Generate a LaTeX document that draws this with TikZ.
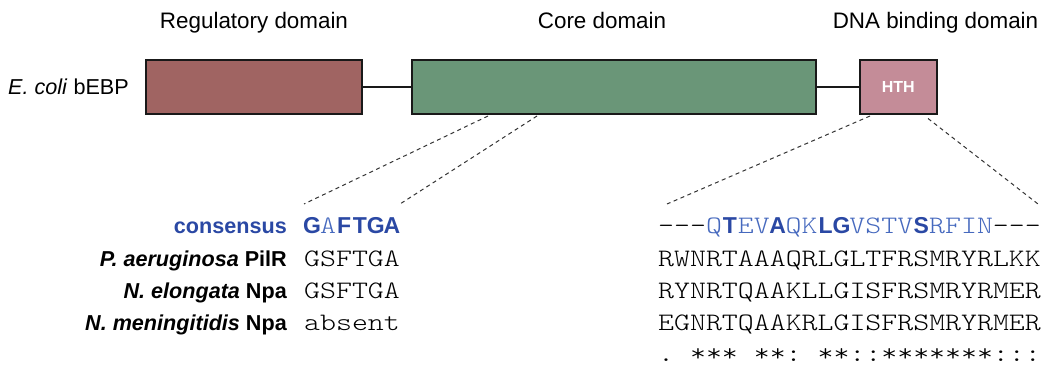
\documentclass[tikz,border=0pt]{standalone}
\usepackage{fontspec}
\setmainfont{Liberation Sans}
\newfontfamily\mono{Latin Modern Mono Light}[FakeStretch=1.21]
\usetikzlibrary{calc}
\definecolor{regc}{RGB}{160,100,98}
\definecolor{corec}{RGB}{106,150,120}
\definecolor{hthc}{RGB}{196,140,152}
\definecolor{cblue}{RGB}{42,72,164}
\definecolor{lblue}{RGB}{70,105,190}
\newcommand{\Bc}[1]{\makebox[15.93pt][c]{\fontsize{23}{26}\normalfont\bfseries\color{cblue}#1}}
\newcommand{\Lc}[1]{{\color{lblue}#1}}
\newcommand{\gap}{\hspace*{15.93pt}}
\begin{document}
\begin{tikzpicture}[x=1pt,y=-1pt,
  dom/.style={draw=black!90, line width=1.5pt, inner sep=0pt, anchor=north west, minimum height=54pt},
  head/.style={font=\fontsize{22.4}{26}\selectfont, anchor=base, inner sep=0pt},
  lab/.style={font=\fontsize{21.6}{26}\selectfont\bfseries, anchor=base east, inner sep=0pt},
  seq/.style={font=\fontsize{25.1}{30}\mono, anchor=base west, inner sep=0pt},
  link/.style={line width=1.5pt, draw=black!90},
  zoomline/.style={dash pattern=on 4pt off 3.5pt, line width=1pt, draw=black!80}]
\useasboundingbox (0,0) rectangle (1043,367);
% headings
\node[head] (hreg) at (254,28) {Regulatory domain};
\node[head] (hcore) at (602,28) {Core domain};
\node[head] (hdna) at (935.5,28) {DNA binding domain};
\node[font=\fontsize{21.6}{26}\selectfont, anchor=base west, inner sep=0pt] (ecoli) at (8,94) {\textit{E. coli} bEBP};
% domains
\node[dom, fill=regc, minimum width=216pt] (reg) at (145,59) {};
\node[dom, fill=corec, minimum width=404pt] (core) at (411,59) {};
\node[dom, fill=hthc, minimum width=77pt, text=white, font=\fontsize{16}{18}\selectfont\bfseries] (hth) at (859,59) {HTH};
\draw[link] (reg.east) -- (core.west);
\draw[link] (core.east) -- (hth.west);
% zoom lines
\coordinate (e1) at (304,204);
\coordinate (e2) at (400,204);
\coordinate (e3) at (667,204);
\coordinate (e4) at (1038,204);
\draw[zoomline] ([xshift=77pt,yshift=-1.5pt]core.south west) -- (e1);
\draw[zoomline] ([xshift=126pt,yshift=-1.5pt]core.south west) -- (e2);
\draw[zoomline] ([xshift=11pt,yshift=-1.5pt]hth.south west) -- (e3);
\draw[zoomline] ([xshift=69pt,yshift=-4pt]hth.south west) -- (e4);
% labels
\node[lab, text=cblue] (l0) at (287,233) {consensus};
\node[lab] (l1) at (287,266) {\textit{P. aeruginosa} PilR};
\node[lab] (l2) at (287,298.5) {\textit{N. elongata} Npa};
\node[lab] (l3) at (287,330.5) {\textit{N. meningitidis} Npa};
% left sequences
\node[seq] (a0) at (304,233) {\Bc{G}\Lc{A}\Bc{F}\Bc{T}\Bc{G}\Bc{A}};
\node[seq] (a1) at (304,266) {GSFTGA};
\node[seq] (a2) at (304,298.5) {GSFTGA};
\node[seq] (a3) at (304,330.5) {absent};
% right sequences
\node[seq] (b0) at (658,233) {---\Lc{Q}\Bc{T}\Lc{EV}\Bc{A}\Lc{QK}\Bc{L}\Bc{G}\Lc{VSTV}\Bc{S}\Lc{RFIN}---};
\node[seq] (b1) at (658,266) {RWNRTAAAQRLGLTFRSMRYRLKK};
\node[seq] (b2) at (658,298.5) {RYNRTQAAKLLGISFRSMRYRMER};
\node[seq] (b3) at (658,330.5) {EGNRTQAAKRLGISFRSMRYRMER};
\node[seq] (b4) at (658,361) {.\gap***\gap**:\gap**::*******:::};
\end{tikzpicture}
\end{document}
